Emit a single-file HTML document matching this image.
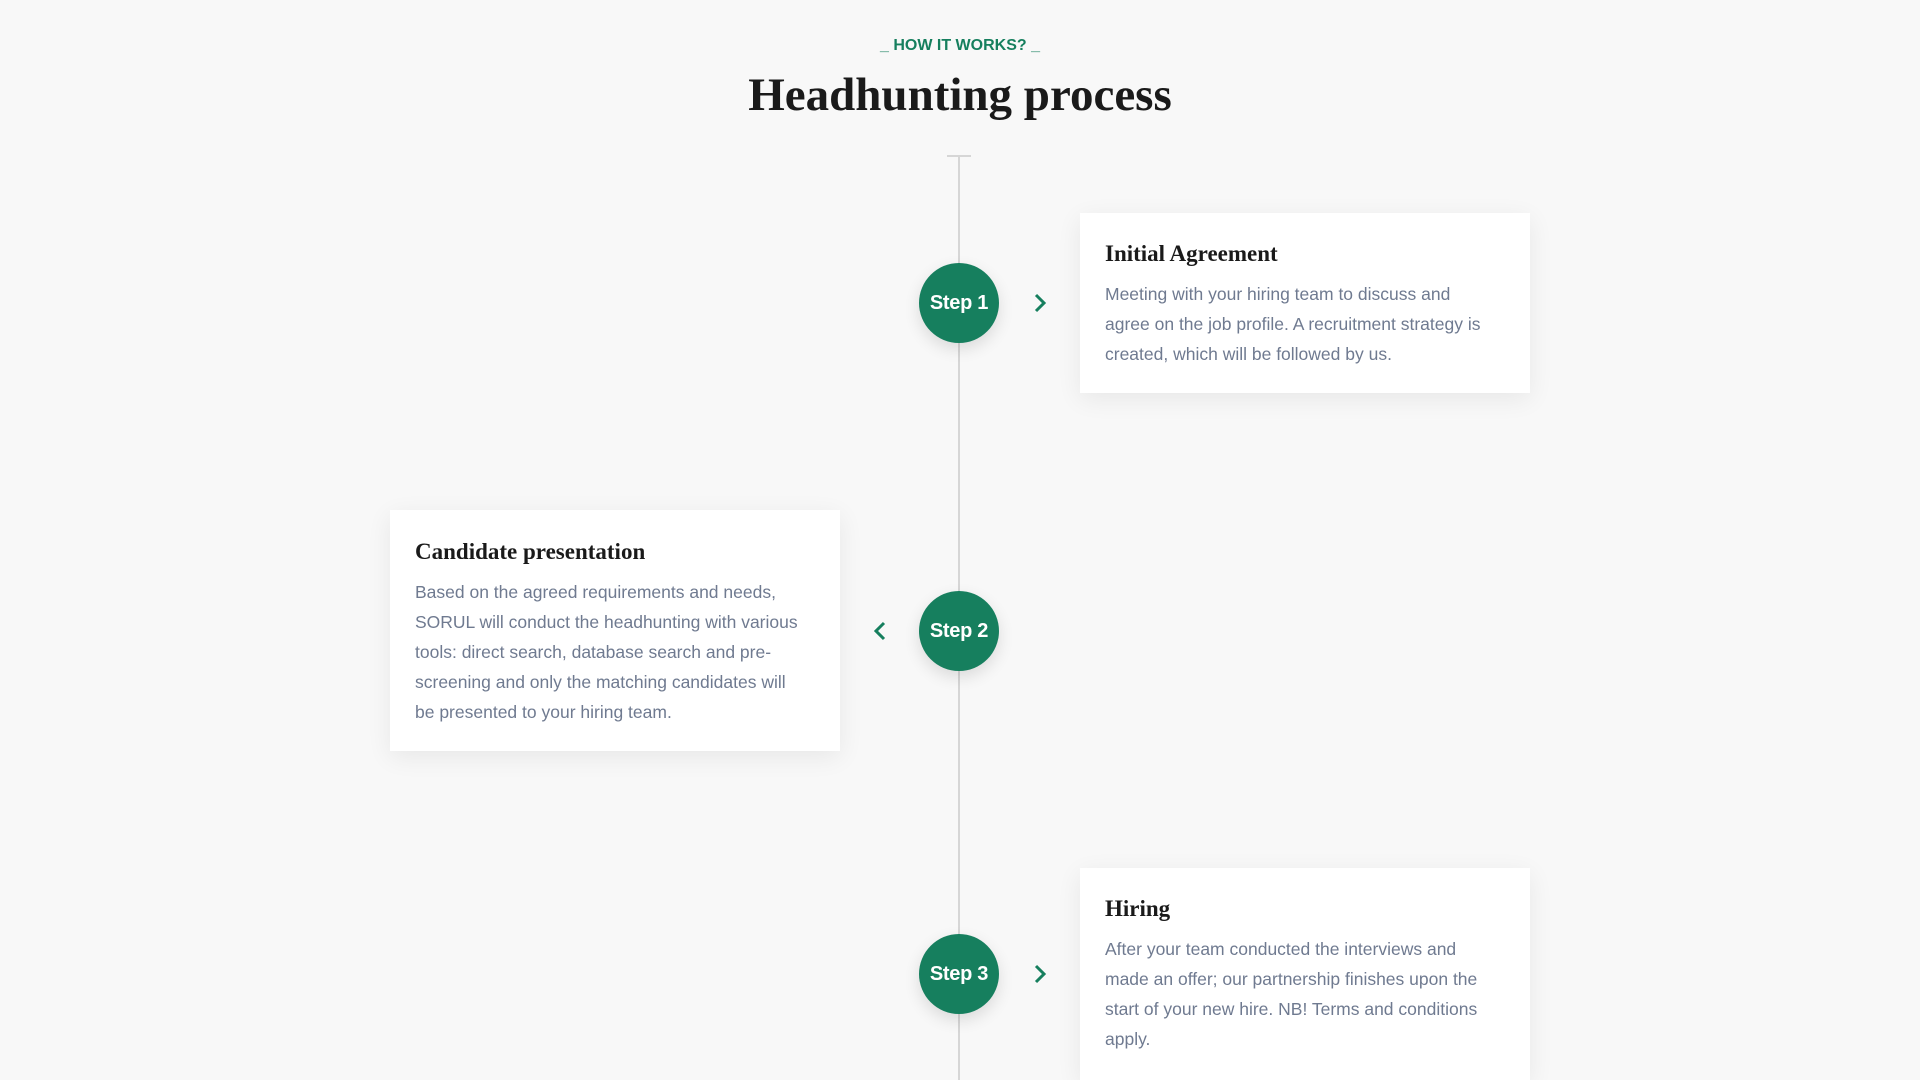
<!DOCTYPE html>
<html><head><meta charset="utf-8"><style>
*{margin:0;padding:0;box-sizing:border-box}
body{width:1920px;height:1080px;background:#f8f8f8;position:relative;overflow:hidden;font-family:"Liberation Sans",sans-serif}
.abs{position:absolute}
.kick{left:0;width:1920px;top:37px;text-align:center;color:#167f5e;font-weight:bold;font-size:16px}
.h1{left:0;width:1920px;top:68px;text-align:center;font-family:"Liberation Serif",serif;font-weight:bold;font-size:47px;color:#1a1a1a}
.line{left:958px;top:156px;width:2px;height:924px;background:#d6d6d6}
.tick{left:947px;top:155px;width:24px;height:2px;background:#d6d6d6}
.card{background:#fff;width:450px;box-shadow:0 6px 24px rgba(0,0,0,0.07);padding:0 25px}
.card h3{font-family:"Liberation Serif",serif;font-weight:bold;font-size:23px;color:#1a1a1a;position:absolute;left:25px}
.card p{position:absolute;left:25px;font-size:17.5px;line-height:30px;color:#6f7a90;white-space:nowrap}
.step{width:80px;height:80px;border-radius:50%;background:#167f5e;color:#fff;font-weight:bold;font-size:20px;text-align:center;line-height:80px;box-shadow:0 6px 16px rgba(0,0,0,0.12);left:919px;letter-spacing:-0.3px}
</style></head><body>
<div class="abs kick">_ HOW IT WORKS? _</div>
<div class="abs h1">Headhunting process</div>
<div class="abs line"></div><div class="abs tick"></div>

<div class="abs card" style="left:1080px;top:213px;height:180px">
<h3 style="top:28px">Initial Agreement</h3>
<p style="top:66px">Meeting with your hiring team to discuss and<br>agree on the job profile. A recruitment strategy is<br>created, which will be followed by us.</p>
</div>
<div class="abs step" style="top:263px">Step 1</div>
<svg class="abs" style="left:1032px;top:292px" width="16" height="22"><polyline points="4,3 12,11 4,19" fill="none" stroke="#167f5e" stroke-width="3"/></svg>

<div class="abs card" style="left:390px;top:510px;height:241px">
<h3 style="top:29px">Candidate presentation</h3>
<p style="top:67px">Based on the agreed requirements and needs,<br>SORUL will conduct the headhunting with various<br>tools: direct search, database search and pre-<br>screening and only the matching candidates will<br>be presented to your hiring team.</p>
</div>
<div class="abs step" style="top:591px">Step 2</div>
<svg class="abs" style="left:872px;top:620px" width="16" height="22"><polyline points="12,3 4,11 12,19" fill="none" stroke="#167f5e" stroke-width="3"/></svg>

<div class="abs card" style="left:1080px;top:868px;height:212px">
<h3 style="top:28px">Hiring</h3>
<p style="top:66px">After your team conducted the interviews and<br>made an offer; our partnership finishes upon the<br>start of your new hire. NB! Terms and conditions<br>apply.</p>
</div>
<div class="abs step" style="top:934px">Step 3</div>
<svg class="abs" style="left:1032px;top:963px" width="16" height="22"><polyline points="4,3 12,11 4,19" fill="none" stroke="#167f5e" stroke-width="3"/></svg>
</body></html>
